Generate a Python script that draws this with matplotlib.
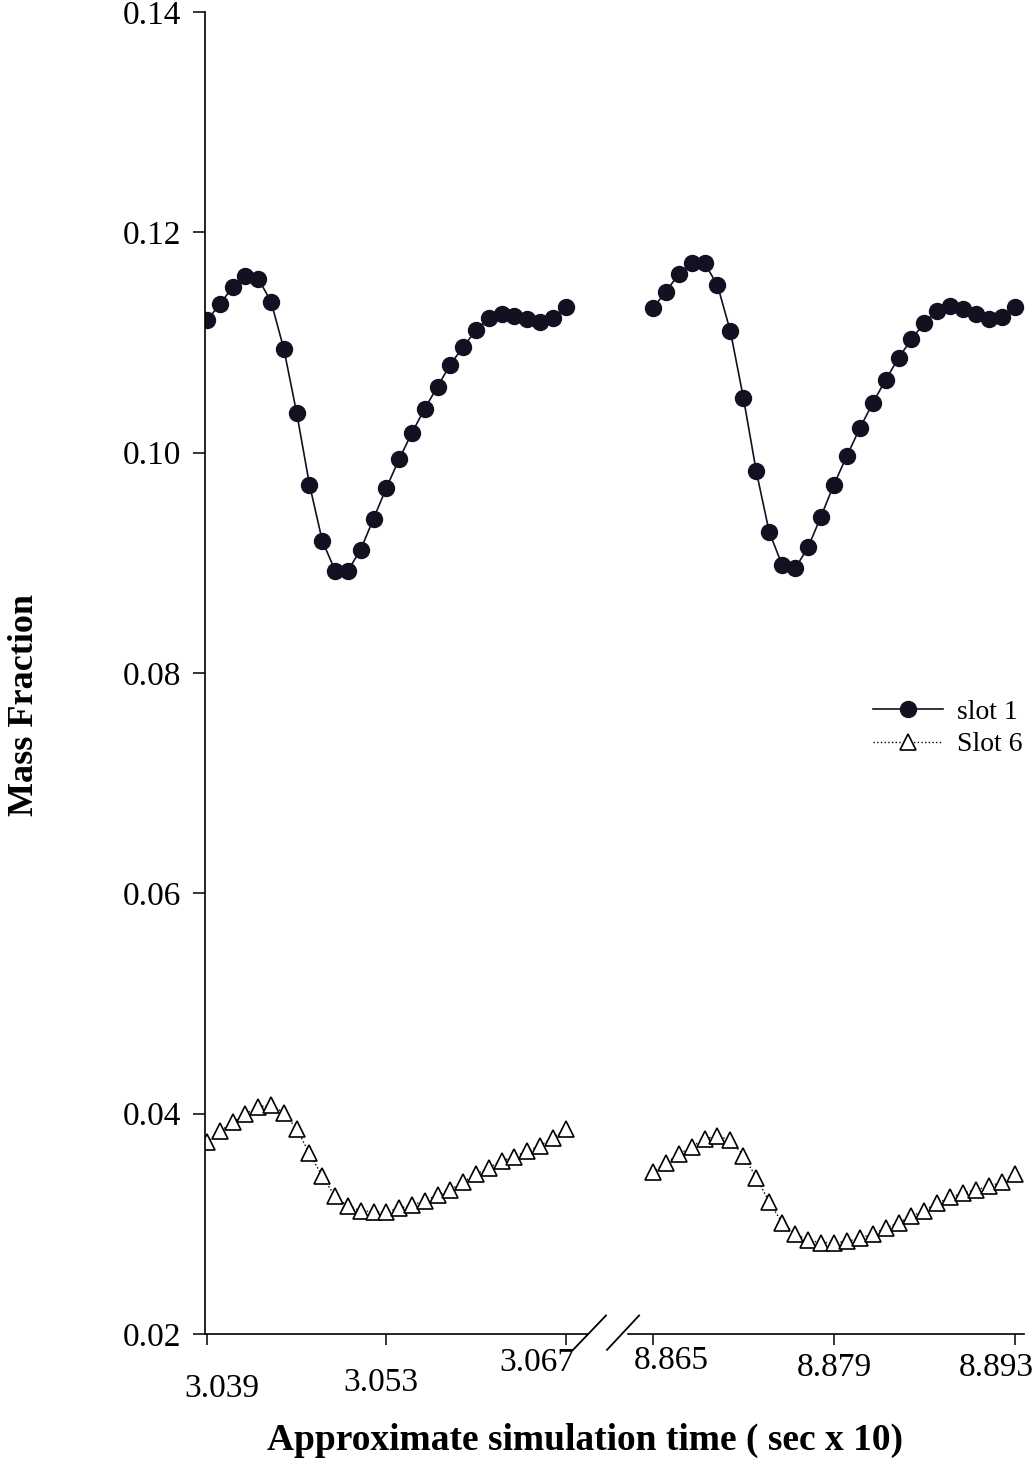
import numpy as np
import matplotlib
matplotlib.use("Agg")
import matplotlib.pyplot as plt
import matplotlib.transforms as mtransforms
from matplotlib.lines import Line2D

plt.rcParams["font.family"] = ["Liberation Serif", "DejaVu Serif"]

# --------------------------------------------------
# Data
# --------------------------------------------------

time_early = np.round(np.arange(3.039, 3.0675, 0.001), 3)
time_late = np.round(np.arange(8.865, 8.8935, 0.001), 3)

slot1_early = [
    0.1120, 0.1135, 0.1150, 0.1160, 0.1158, 0.1137, 0.1094, 0.1036, 0.0971,
    0.0920, 0.0893, 0.0893, 0.0912, 0.0940, 0.0968, 0.0994, 0.1018, 0.1040,
    0.1060, 0.1080, 0.1096, 0.1111, 0.1122, 0.1126, 0.1124, 0.1121, 0.1119,
    0.1122, 0.1132,
]
slot1_late = [
    0.1131, 0.1146, 0.1162, 0.1172, 0.1172, 0.1152, 0.1110, 0.1050, 0.0983,
    0.0928, 0.0898, 0.0895, 0.0914, 0.0942, 0.0971, 0.0997, 0.1022, 0.1045,
    0.1066, 0.1086, 0.1103, 0.1118, 0.1129, 0.1133, 0.1130, 0.1126, 0.1121,
    0.1123, 0.1132,
]
slot6_early = [
    0.0374, 0.0384, 0.0392, 0.0400, 0.0406, 0.0408, 0.0401, 0.0386, 0.0364,
    0.0343, 0.0325, 0.0316, 0.0312, 0.0311, 0.0311, 0.0314, 0.0317, 0.0321,
    0.0326, 0.0331, 0.0338, 0.0345, 0.0351, 0.0357, 0.0361, 0.0366, 0.0371,
    0.0378, 0.0386,
]
slot6_late = [
    0.0347, 0.0355, 0.0363, 0.0370, 0.0377, 0.0380, 0.0376, 0.0362, 0.0342,
    0.0320, 0.0301, 0.0291, 0.0285, 0.0283, 0.0283, 0.0284, 0.0287, 0.0291,
    0.0296, 0.0301, 0.0307, 0.0312, 0.0319, 0.0324, 0.0328, 0.0331, 0.0334,
    0.0338, 0.0345,
]

ticks_early = [3.039, 3.053, 3.067]
ticks_late = [8.865, 8.879, 8.893]
y_ticks = [0.02, 0.04, 0.06, 0.08, 0.10, 0.12, 0.14]

# --------------------------------------------------
# Figure
# --------------------------------------------------

W, H = 1032, 1466
fig = plt.figure(figsize=(W / 100, H / 100), dpi=100)

bottom = 1 - 1334 / H
height = (1334 - 12) / H

ax1 = fig.add_axes([205 / W, bottom, (588 - 205) / W, height])
ax2 = fig.add_axes([628 / W, bottom, (1024 - 628) / W, height], sharey=ax1)

circle_style = dict(color="#111122", linestyle="-", linewidth=1.2,
                    marker="o", markersize=11.5, markerfacecolor="#111122",
                    markeredgecolor="#111122")
tri_style = dict(color="black", linestyle=":", linewidth=1.0,
                 marker="^", markersize=11, markerfacecolor="white",
                 markeredgecolor="black", markeredgewidth=1.2)

ax1.plot(time_early, slot1_early, **circle_style)
ax1.plot(time_early, slot6_early, **tri_style)
ax2.plot(time_late, slot1_late, **circle_style)
ax2.plot(time_late, slot6_late, **tri_style)

ax1.set_xlim(3.03884, 3.06875)
ax2.set_xlim(8.86308, 8.8937)
ax1.set_ylim(0.02, 0.14)

for ax in (ax1, ax2):
    ax.spines["top"].set_visible(False)
    ax.spines["right"].set_visible(False)
    ax.spines["bottom"].set_linewidth(1.2)
    ax.tick_params(axis="x", direction="out", length=8, width=1.1,
                   pad=12, labelsize=24)

ax2.spines["left"].set_visible(False)
ax2.tick_params(axis="y", left=False, labelleft=False)

ax1.spines["left"].set_linewidth(1.2)
ax1.set_yticks(y_ticks)
ax1.set_yticklabels([f"{v:.2f}" for v in y_ticks])
ax1.tick_params(axis="y", direction="out", length=9, width=1.1,
                pad=8, labelsize=24)

ax1.set_xticks(ticks_early)
ax1.set_xticklabels([f"{v:.3f}" for v in ticks_early])
ax2.set_xticks(ticks_late)
ax2.set_xticklabels([f"{v:.3f}" for v in ticks_late])

# nudge the x tick labels the way the scanned original has them
label_shift = [(15, -12), (-6, -6), (-29, 14), (18, 16), (0, 9), (-19, 9)]
labels = ax1.get_xticklabels() + ax2.get_xticklabels()
for lab, (dx, dy) in zip(labels, label_shift):
    offset = mtransforms.ScaledTranslation(dx / 100, dy / 100,
                                           fig.dpi_scale_trans)
    lab.set_transform(lab.get_transform() + offset)

# --------------------------------------------------
# Axis break marks
# --------------------------------------------------

ax1.plot([0.961, 1.047], [-0.012, 0.014],
         transform=ax1.transAxes, color="black", linewidth=1.3,
         clip_on=False)
ax2.plot([-0.053, 0.028], [-0.012, 0.014],
         transform=ax2.transAxes, color="black", linewidth=1.3,
         clip_on=False)

# --------------------------------------------------
# Labels and legend
# --------------------------------------------------

fig.text(25 / W, 1 - 705 / H, "Mass Fraction", rotation=90,
         ha="center", va="center", fontsize=26, fontweight="bold")
fig.text(585 / W, 1 - 1440 / H, "Approximate simulation time ( sec x 10)",
         ha="center", va="center", fontsize=27, fontweight="bold")

handles = [
    Line2D([], [], **circle_style),
    Line2D([], [], **tri_style),
]
ax2.legend(handles, ["slot 1", "Slot 6"], loc="center right",
           bbox_to_anchor=(0.995, 0.458), frameon=False, fontsize=20,
           numpoints=1, handlelength=2.5, handletextpad=0.5,
           labelspacing=0.25, borderaxespad=0.0, borderpad=0.0)

plt.savefig("out.png", dpi=100)
plt.close()
